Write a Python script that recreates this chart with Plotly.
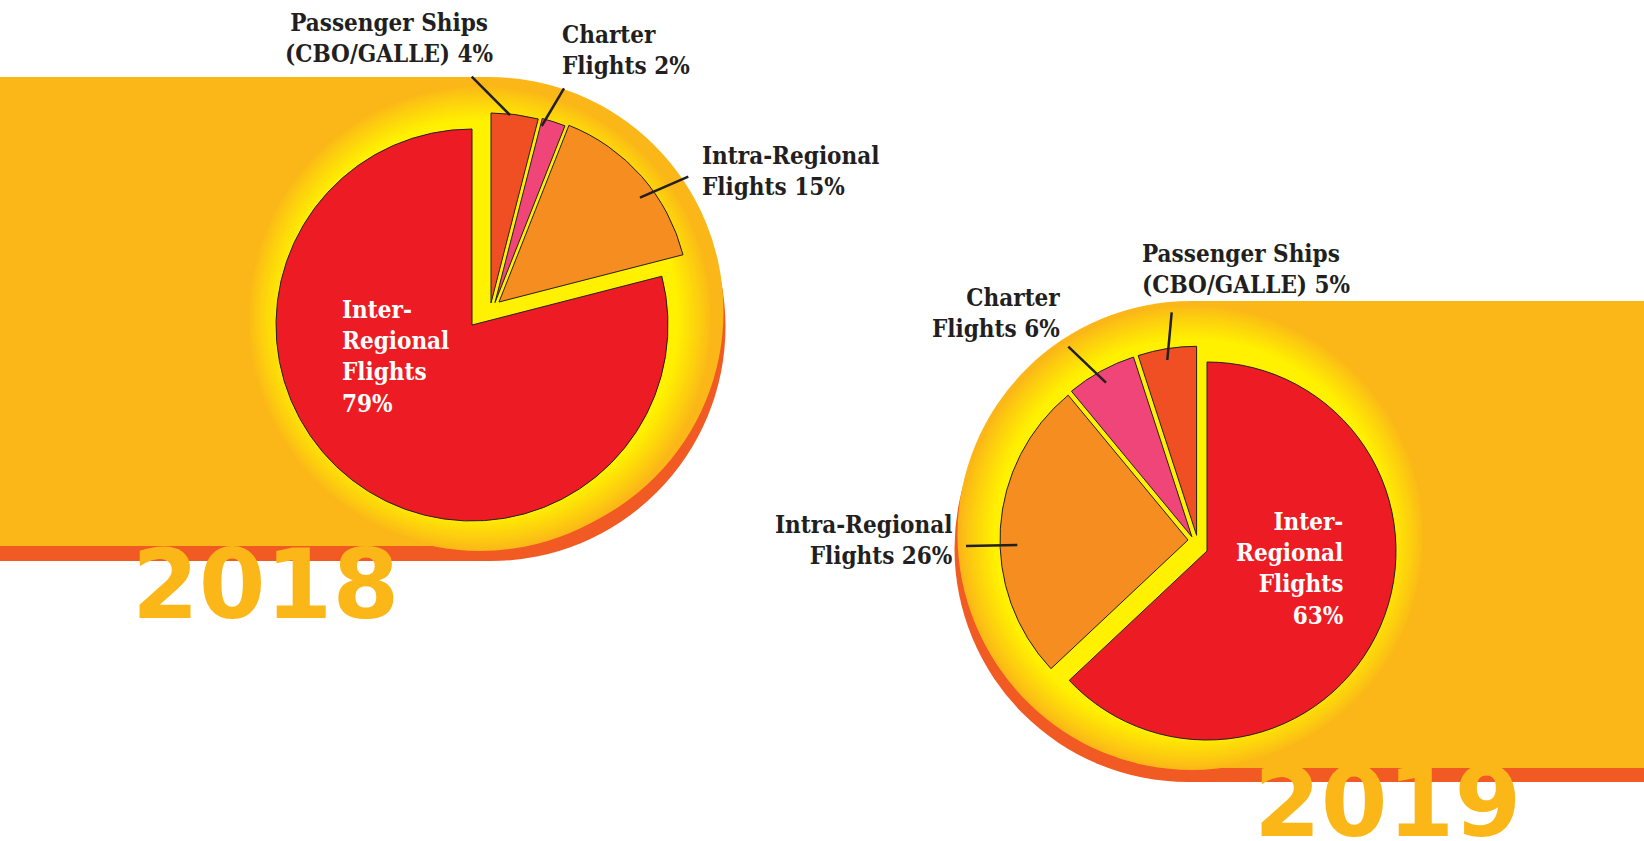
import plotly.graph_objects as go

# ---------------- data ----------------
categories = ["Passenger Ships (CBO/GALLE)", "Charter Flights",
              "Intra-Regional Flights", "Inter-Regional Flights"]
label_lines = [["Passenger Ships", "(CBO/GALLE)"], ["Charter", "Flights"],
               ["Intra-Regional", "Flights"], ["Inter-", "Regional", "Flights"]]
share_2018 = [4, 2, 15, 79]
share_2019 = [5, 6, 26, 63]
years = ["2018", "2019"]

# ---------------- styles ----------------
W, H = 1644, 841
BAND = "#FBB718"
SHADOW = "#F15A22"
GLOW = "#FFF100"
INK = "#231F20"
SLICE_COLORS = ["#F04E23", "#EF4578", "#F58D20", "#ED1C24"]
SERIF = "DejaVu Serif Condensed, DejaVu Serif, serif"
SANS = "DejaVu Sans, sans-serif"

# pixel geometry of each year's panel (layout only)
GEOM = {
    "2018": dict(
        values=share_2018, order=[0, 1, 2, 3],  # clockwise from 12 o'clock
        centers=[(491, 303), (495, 302.5), (499, 302), (472, 325)],
        radii=[190, 190, 190, 196],
        band_side="right", band_c=(489, 311.5), band_r=234.5, shadow_off=(2, 15),
        glow_c=(480, 318),
        year_xy=(265.5, 618.3),
        labels=[dict(x=389, base=31, anchor="center", color=INK),
                dict(x=561, base=42.3, anchor="left", color=INK),
                dict(x=701, base=163.3, anchor="left", color=INK),
                dict(x=341, base=317.7, anchor="left", color="white")],
        leaders=[((471.7, 76.7), (510, 115)), ((564, 88.3), (541.7, 126)),
                 ((688.3, 176.7), (640, 197.7))],
    ),
    "2019": dict(
        values=share_2019, order=[3, 2, 1, 0],  # clockwise from 12 o'clock
        centers=[(1196.6, 535.3), (1191.9, 536.8), (1188, 540), (1207, 551)],
        radii=[189, 189, 188, 189],
        band_side="left", band_c=(1191, 534.5), band_r=233.5, shadow_off=(-3, 14),
        glow_c=(1192, 537),
        year_xy=(1387.5, 836.5),
        labels=[dict(x=1141, base=261.7, anchor="left", color=INK),
                dict(x=1061, base=306, anchor="right", color=INK),
                dict(x=953, base=532.7, anchor="right", color=INK),
                dict(x=1344, base=530, anchor="right", color="white")],
        leaders=[((1171.7, 312.3), (1167.3, 360)), ((1068.3, 346.7), (1106, 382.7)),
                 ((966, 546), (1017.3, 545))],
    ),
}


def px(x):
    return x / W


def py(y):
    return 1 - y / H


def mix(c1, c2, t):
    a = [int(c1[i:i + 2], 16) for i in (1, 3, 5)]
    b = [int(c2[i:i + 2], 16) for i in (1, 3, 5)]
    return "rgb(%d,%d,%d)" % tuple(round(a[k] + (b[k] - a[k]) * t) for k in range(3))


def circle(cx, cy, r, color, layer="below"):
    return dict(type="circle", xref="paper", yref="paper",
                x0=px(cx - r), x1=px(cx + r), y0=py(cy + r), y1=py(cy - r),
                fillcolor=color, line=dict(width=0), layer=layer)


def rect(x0, x1, y0, y1, color):
    return dict(type="rect", xref="paper", yref="paper",
                x0=px(x0), x1=px(x1), y0=py(y1), y1=py(y0),
                fillcolor=color, line=dict(width=0), layer="below")


def band_shapes(side, c, r, color, off=(0, 0)):
    cx, cy = c[0] + off[0], c[1] + off[1]
    if side == "right":
        rr = rect(-30, cx, cy - r, cy + r, color)
    else:
        rr = rect(cx, W + 30, cy - r, cy + r, color)
    return [rr, circle(cx, cy, r, color)]


def text_block(x, base, lines, anchor, color, size=24):
    n = len(lines)
    yc = base + (n - 1) * 0.65 * size - 0.346 * size
    return dict(x=px(x), y=py(yc), xref="paper", yref="paper",
                text="<br>".join(lines), showarrow=False,
                xanchor=anchor, yanchor="middle", align=anchor,
                borderpad=0,
                font=dict(family=SERIF, size=size, color=color, weight="bold"))


fig = go.Figure()
shapes, annotations = [], []

for year in years:
    g = GEOM[year]
    vals = g["values"]
    order = g["order"]
    # background band with its shadow
    shapes += band_shapes(g["band_side"], g["band_c"], g["band_r"], SHADOW, g["shadow_off"])
    shapes += band_shapes(g["band_side"], g["band_c"], g["band_r"], BAND)
    # radial glow behind the pie
    gx, gy = g["glow_c"]
    r_out, r_in, n = 233, 198, 18
    for k in range(n):
        t = k / (n - 1)
        shapes.append(circle(gx, gy, r_out - (r_out - r_in) * t, mix(BAND, GLOW, t ** 0.9)))
    shapes.append(circle(gx, gy, r_in, GLOW))

    # pie: one trace per slice so each slice can be offset like the original
    for i in [3, 0, 1, 2]:
        cx, cy = g["centers"][i]
        r = g["radii"][i]
        colors = [SLICE_COLORS[j] if j == i else "rgba(0,0,0,0)" for j in order]
        widths = [1 if j == i else 0 for j in order]
        fig.add_trace(go.Pie(
            values=[vals[j] for j in order], labels=[categories[j] for j in order],
            sort=False, direction="clockwise", rotation=0,
            marker=dict(colors=colors, line=dict(color=INK, width=widths)),
            textinfo="none", hoverinfo="label+percent", showlegend=False,
            name=year,
            domain=dict(x=[px(cx - r), px(cx + r)], y=[py(cy + r), py(cy - r)]),
        ))

    # labels
    for i, lab in enumerate(g["labels"]):
        lines = list(label_lines[i])
        if i == 3:
            lines.append(f"{vals[i]}%")
        else:
            lines[-1] = f"{lines[-1]} {vals[i]}%"
        annotations.append(text_block(lab["x"], lab["base"], lines, lab["anchor"], lab["color"]))

    # leader lines
    for (x0, y0), (x1, y1) in g["leaders"]:
        shapes.append(dict(type="line", xref="paper", yref="paper",
                           x0=px(x0), y0=py(y0), x1=px(x1), y1=py(y1),
                           line=dict(color=INK, width=2.5), layer="above"))

    # big year text
    ysz = 96
    yx, ybase = g["year_xy"]
    annotations.append(dict(x=px(yx), y=py(ybase - 0.346 * ysz), xref="paper", yref="paper",
                            text=year, showarrow=False, xanchor="center", yanchor="middle",
                            borderpad=0,
                            font=dict(family=SANS, size=ysz, color=BAND, weight="bold")))

fig.update_layout(
    width=W, height=H, autosize=False,
    margin=dict(l=0, r=0, t=0, b=0),
    paper_bgcolor="white", plot_bgcolor="white",
    shapes=shapes, annotations=annotations,
    showlegend=False,
)

fig.write_html("out.html",
               config={"displayModeBar": False},
               post_script="document.body.style.margin='0';document.body.style.overflow='hidden';")
